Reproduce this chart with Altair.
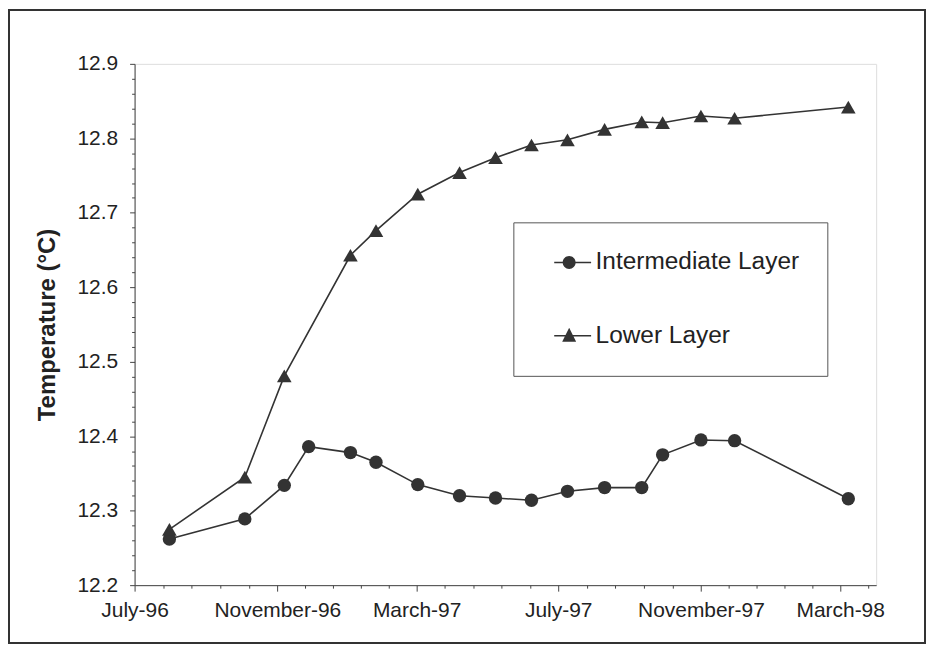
import altair as alt
import pandas as pd

# ---------------- data ----------------
series_names = ["Intermediate Layer", "Lower Layer"]

intermediate_dates = ["1996-07-31", "1996-10-04", "1996-11-07", "1996-11-28", "1997-01-03",
                      "1997-01-25", "1997-03-02", "1997-04-07", "1997-05-08", "1997-06-08",
                      "1997-07-09", "1997-08-10", "1997-09-11", "1997-09-29", "1997-11-01",
                      "1997-11-30", "1998-03-08"]
intermediate_temps = [12.262, 12.289, 12.334, 12.386, 12.378, 12.365, 12.335, 12.320, 12.317,
                      12.314, 12.326, 12.331, 12.331, 12.375, 12.395, 12.394, 12.316]

lower_dates = ["1996-07-31", "1996-10-04", "1996-11-07", "1997-01-03", "1997-01-25",
               "1997-03-02", "1997-04-07", "1997-05-08", "1997-06-08", "1997-07-09",
               "1997-08-10", "1997-09-11", "1997-09-29", "1997-11-01", "1997-11-30",
               "1998-03-08"]
lower_temps = [12.275, 12.345, 12.481, 12.643, 12.676, 12.725, 12.754, 12.774, 12.791,
               12.798, 12.812, 12.822, 12.821, 12.830, 12.827, 12.842]

x_tick_dates = ["1996-07-01", "1996-11-01", "1997-03-01", "1997-07-01", "1997-11-01", "1998-03-01"]
x_domain_dates = ["1996-07-01", "1998-04-01"]
y_ticks = [12.2, 12.3, 12.4, 12.5, 12.6, 12.7, 12.8, 12.9]

# ---------------- tables ----------------
rows = [{"date": d, "temp": t, "series": series_names[0]}
        for d, t in zip(intermediate_dates, intermediate_temps)]
rows += [{"date": d, "temp": t, "series": series_names[1]}
         for d, t in zip(lower_dates, lower_temps)]
df = pd.DataFrame(rows)


def dt(s):
    y, m, d = (int(v) for v in s.split("-"))
    return alt.DateTime(year=y, month=m, date=d, utc=True)


def ms(ts):
    return int(ts.timestamp() * 1000)


# tick positions (axis decoration): majors plus 4 minor ticks between them
majors = [pd.Timestamp(s) for s in x_tick_dates]
x_tick_list = []
for a, b in zip(majors[:-1], majors[1:]):
    x_tick_list.append(a)
    for k in range(1, 5):
        x_tick_list.append(a + (b - a) * k / 5)
x_tick_list.append(majors[-1])
x_tick_list.append(majors[-1] + (majors[-1] - majors[-2]) / 5)
x_tick_values = [ms(t) for t in x_tick_list]
y_tick_values = [round(12.2 + 0.02 * i, 2) for i in range(0, 36)]

x_scale = alt.Scale(type="utc", domain=[dt(s) for s in x_domain_dates], nice=False)
y_scale = alt.Scale(domain=[12.2, 12.9], nice=False, zero=False)

INK = "#333333"
AXC = "#444444"
FONT = "Liberation Sans"

X_MAJOR = "utcdate(datum.value) == 1"
Y_MAJOR = "abs(datum.value * 10 - round(datum.value * 10)) < 0.001"

x_axis = alt.Axis(values=x_tick_values,
                  labelExpr=f"{X_MAJOR} ? utcFormat(datum.value, '%B-%y') : ''",
                  labelFontSize=21, labelFont=FONT, labelColor="#222",
                  tickSize={"condition": {"test": X_MAJOR, "value": 6}, "value": 3},
                  labelPadding=8, grid=False, title=None,
                  domainColor=AXC, tickColor=AXC,
                  labelOverlap=False, labelFlush=False)
y_axis = alt.Axis(values=y_tick_values,
                  labelExpr=f"{Y_MAJOR} ? format(datum.value, '.1f') : ''",
                  labelFontSize=21, labelFont=FONT, labelColor="#222",
                  tickSize={"condition": {"test": Y_MAJOR, "value": 5}, "value": 3},
                  labelPadding=12, grid=False,
                  domainColor=AXC, tickColor=AXC, labelOverlap=False,
                  title="Temperature (°C)", titleFontSize=24, titleFont=FONT,
                  titleFontWeight="bold", titleColor="#222",
                  titleAngle=270, titleX=-80, titleY=261.5,
                  titleAlign="center", titleBaseline="alphabetic")

X = alt.X("date:T", scale=x_scale, axis=x_axis)
Y = alt.Y("temp:Q", scale=y_scale, axis=y_axis)

lines = alt.Chart(df).mark_line(color=INK, strokeWidth=1.6).encode(
    x=X, y=Y, detail="series:N")

points = alt.Chart(df).mark_point(filled=True, color=INK, opacity=1).encode(
    x=X, y=Y,
    shape=alt.Shape("series:N", scale=alt.Scale(domain=series_names,
                                                range=["circle", "triangle-up"]), legend=None),
    size=alt.Size("series:N", scale=alt.Scale(domain=series_names, range=[180, 215]),
                  legend=None),
)

# legend symbols: a short bar (the line) with the marker on it, all filled, clockwise
legend_circle = ("M0.15,-0.16L7.55,-0.16L7.55,0.16L0.15,0.16Z"
                 "M4.45,0A1.3,1.3,0,1,1,1.85,0A1.3,1.3,0,1,1,4.45,0Z")
legend_triangle = ("M0.15,-0.16L7.55,-0.16L7.55,0.16L0.15,0.16Z"
                   "M1.75,1.2L3.15,-1.6L4.55,1.2Z")

legend_layer = alt.Chart(df).mark_point(filled=True, color=INK).encode(
    shape=alt.Shape("series:N",
                    scale=alt.Scale(domain=series_names,
                                    range=[legend_circle, legend_triangle]),
                    legend=alt.Legend(title=None, orient="none", legendX=380, legendY=159,
                                      padding=28, labelFontSize=24.5, labelFont=FONT,
                                      labelColor="#222", labelOffset=30, rowPadding=48.5,
                                      symbolSize=100, symbolStrokeWidth=0,
                                      symbolFillColor=INK,
                                      symbolOpacity=1, strokeColor="#555",
                                      fillColor="white", labelLimit=500)),
).transform_filter("false")

frame = alt.Chart(alt.Data(values=[{"k": 1}])).mark_rect(
    fill="transparent", stroke="#333", strokeWidth=2).encode(
    x=alt.value(-126), x2=alt.value(793), y=alt.value(-54), y2=alt.value(581))

chart = (
    alt.layer(lines, points, legend_layer, frame)
    .resolve_scale(shape="independent", size="independent")
    .properties(width=744, height=523,
                padding={"left": 127, "top": 55, "right": 51, "bottom": 60},
                autosize=alt.AutoSizeParams(type="none"),
                background="white")
    .configure_view(stroke="#444", strokeWidth=1.2)
    .configure(font=FONT)
)

chart.save("out.html", embed_options={"renderer": "svg", "actions": False})
